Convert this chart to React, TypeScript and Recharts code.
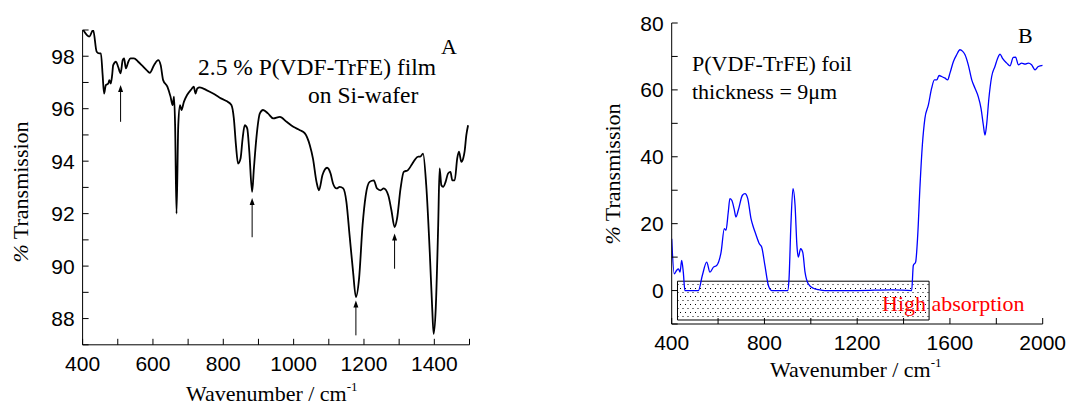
import React from 'react';
import { LineChart, Line, XAxis, YAxis, ReferenceLine, ReferenceArea } from 'recharts';

// Panel A: 2.5 % P(VDF-TrFE) film on Si-wafer
const wavenumberA = [
  402, 419, 430, 440, 447, 452, 457, 461, 466, 473,
  476, 480, 484, 487, 495, 501, 508, 514, 518, 523,
  530, 536, 546, 558, 568, 582, 591, 603, 615, 622,
  629, 641, 650, 656, 660, 663, 667, 672, 677, 681,
  688, 697, 710, 716, 721, 726, 733, 752, 771, 790,
  809, 823, 830, 836, 842, 849, 855, 861, 868, 874,
  882, 887, 894, 904, 913, 927, 942, 961, 980, 999,
  1018, 1032, 1046, 1055, 1065, 1072, 1082, 1095, 1105, 1112,
  1122, 1131, 1141, 1150, 1159, 1169, 1177, 1186, 1196, 1205,
  1216, 1228, 1237, 1247, 1256, 1269, 1278, 1287, 1294, 1304,
  1313, 1325, 1335, 1344, 1354, 1360, 1368, 1377, 1387, 1394,
  1398, 1404, 1411, 1415, 1420, 1425, 1432, 1439, 1446, 1451,
  1458, 1465, 1470, 1477, 1482, 1486, 1491, 1496,
];
const transmissionA = [
  99.0, 98.75, 99.0, 98.17, 98.11, 98.11, 97.28, 96.58, 96.9, 96.96,
  97.09, 96.96, 97.28, 97.66, 97.79, 97.6, 97.35, 97.85, 97.92, 97.54,
  97.79, 97.92, 97.92, 97.79, 97.66, 97.47, 97.37, 97.66, 97.85, 97.66,
  97.09, 96.84, 96.46, 96.14, 96.46, 95.37, 92.0, 95.37, 96.14, 95.95,
  96.26, 96.52, 96.75, 96.84, 96.58, 96.77, 96.81, 96.71, 96.58, 96.42,
  96.29, 96.14, 95.63, 94.61, 93.91, 94.1, 94.87, 95.37, 95.25, 94.36,
  92.83, 93.72, 94.87, 95.82, 95.95, 95.82, 95.63, 95.69, 95.5, 95.31,
  95.18, 95.06, 94.61, 94.1, 93.21, 92.89, 93.47, 93.75, 93.53, 93.15,
  92.96, 93.02, 92.96, 92.45, 91.18, 89.78, 88.82, 89.52, 91.56, 92.7,
  93.21, 93.27, 92.96, 92.89, 92.96, 92.7, 92.13, 91.49, 91.81, 92.96,
  93.59, 93.66, 93.85, 94.04, 94.17, 94.17, 94.29, 93.08, 90.54, 88.38,
  87.42, 88.38, 91.56, 93.72, 93.08, 93.02, 93.21, 93.53, 93.59, 93.27,
  93.27, 94.1, 94.36, 93.97, 94.1, 94.36, 94.99, 95.37,
];
// arrows marking bands: wavenumber, tail and tip transmission
const arrowsA = [
  { wn: 508, from: 95.5, to: 96.9 },
  { wn: 882, from: 91.1, to: 92.6 },
  { wn: 1177, from: 87.36, to: 88.69 },
  { wn: 1287, from: 89.9, to: 91.24 },
];
const xTicksA = [400, 500, 600, 700, 800, 900, 1000, 1100, 1200, 1300, 1400, 1500];
const yTicksA = [87, 88, 89, 90, 91, 92, 93, 94, 95, 96, 97, 98, 99];

// Panel B: P(VDF-TrFE) foil, 9 µm
const wavenumberB = [
  400, 411, 421, 429, 436, 443, 450, 457, 515, 532,
  551, 565, 580, 594, 613, 627, 634, 644, 651, 659,
  669, 677, 687, 705, 716, 728, 742, 752, 762, 778,
  788, 802, 817, 831, 900, 906, 914, 923, 932, 940,
  946, 956, 965, 975, 989, 1011, 1032, 1061, 1200, 1350,
  1435, 1442, 1452, 1461, 1471, 1481, 1492, 1507, 1521, 1533,
  1543, 1553, 1564, 1579, 1590, 1600, 1615, 1629, 1643, 1655,
  1665, 1679, 1694, 1708, 1722, 1734, 1744, 1751, 1758, 1768,
  1780, 1794, 1809, 1816, 1826, 1845, 1859, 1873, 1883, 1895,
  1909, 1924, 1938, 1952, 1967, 1981, 2000,
];
const transmissionB = [
  15.5, 5.0, 6.0, 6.5, 5.5, 9.0, 5.5, 0, 0, 4.5,
  8.5, 5.5, 7.0, 7.5, 11.5, 18.5, 18.0, 23.5, 27.5, 27.0,
  24.5, 22.0, 24.0, 28.5, 29.0, 27.5, 21.5, 19.0, 17.0, 14.0,
  13.0, 7.5, 1.5, 0, 0, 3.5, 19.5, 30.5, 25.5, 13.5,
  10.0, 12.5, 11.5, 5.5, 2.0, 0.7, 0.3, 0, 0, 0.2,
  0, 7.5, 8.5, 16.5, 31.5, 43.5, 51.5, 55.5, 60.5, 63.0,
  63.0, 64.3, 64.0, 63.5, 63.0, 65.0, 68.5, 70.5, 72.0, 71.5,
  70.5, 67.5, 63.0, 60.5, 58.0, 54.5, 49.5, 46.5, 49.5, 57.5,
  64.0, 67.0, 70.0, 70.7, 69.5, 68.0, 67.2, 69.7, 69.8, 67.5,
  68.0, 67.7, 68.0, 67.5, 66.0, 67.0, 67.3,
];
const absorptionBand = { from: 425, to: 1510, low: -8.8, high: 2.8 };
const xTicksB = [400, 600, 800, 1000, 1200, 1400, 1600, 1800, 2000];
const yTicksB = [-10, 0, 10, 20, 30, 40, 50, 60, 70, 80];

const dataA = wavenumberA.map((wn, i) => ({ wn, t: transmissionA[i] }));
const dataB = wavenumberB.map((wn, i) => ({ wn, t: transmissionB[i] }));

const serif = '"Liberation Serif", "Times New Roman", serif';
const sans = '"Liberation Sans", Arial, sans-serif';

const BottomTick = (props: any) => {
  const { x, y, payload, every } = props;
  if (payload.value % every !== 0) return <g />;
  return (
    <text x={x} y={y + 26} textAnchor="middle" fontFamily={sans} fontSize={21} fill="#000">
      {payload.value}
    </text>
  );
};

const LeftTick = (props: any) => {
  const { x, y, payload, every, base } = props;
  if ((payload.value - base) % every !== 0) return <g />;
  return (
    <text x={x - 8} y={y + 7.5} textAnchor="end" fontFamily={sans} fontSize={21} fill="#000">
      {payload.value}
    </text>
  );
};

const Arrow = (props: any) => {
  const { x1, y1, x2, y2 } = props;
  if (x1 == null || y1 == null) return <g />;
  const tip = Math.min(y1, y2);
  const tail = Math.max(y1, y2);
  const x = (x1 + x2) / 2;
  return (
    <g>
      <line x1={x} y1={tail} x2={x} y2={tip + 5} stroke="#000" strokeWidth={1} />
      <path d={`M${x},${tip} L${x - 2.5},${tip + 7} L${x + 2.5},${tip + 7} Z`} fill="#000" />
    </g>
  );
};

const axisStroke = { stroke: '#000', strokeWidth: 1 };

const PanelA = () => (
  <LineChart width={500} height={408} data={dataA} margin={{ top: 30, right: 30.5, left: 0, bottom: 33.2 }}>
    <XAxis
      dataKey="wn"
      type="number"
      domain={[400, 1500]}
      ticks={xTicksA}
      interval={0}
      allowDataOverflow
      height={30}
      tickSize={-6}
      tickMargin={6}
      axisLine={axisStroke}
      tickLine={axisStroke}
      tick={(p: any) => <BottomTick {...p} every={200} />}
    />
    <XAxis xAxisId="top" orientation="top" type="number" domain={[400, 1500]} ticks={xTicksA} interval={0}
      height={0} tickSize={-6} tick={false} axisLine={axisStroke} tickLine={axisStroke} />
    <YAxis
      type="number"
      domain={[87, 99]}
      ticks={yTicksA}
      interval={0}
      allowDataOverflow
      width={82.6}
      tickSize={-6}
      tickMargin={6}
      axisLine={axisStroke}
      tickLine={axisStroke}
      tick={(p: any) => <LeftTick {...p} every={2} base={88} />}
    />
    <YAxis yAxisId="right" orientation="right" type="number" domain={[87, 99]} ticks={yTicksA} interval={0}
      width={0} tickSize={-6} tick={false} axisLine={axisStroke} tickLine={axisStroke} />
    {arrowsA.map((a) => (
      <ReferenceLine
        key={a.wn}
        segment={[{ x: a.wn, y: a.from }, { x: a.wn, y: a.to }]}
        shape={(p: any) => <Arrow {...p} />}
      />
    ))}
    <Line type="monotone" dataKey="t" stroke="#000" strokeWidth={1.8} dot={false} isAnimationActive={false} />
  </LineChart>
);

const PanelB = () => (
  <LineChart width={469} height={408} data={dataB} margin={{ top: 23, right: 26.3, left: 0, bottom: 54 }}>
    <defs>
      <pattern id="dots" width="5" height="8" patternUnits="userSpaceOnUse">
        <rect width="5" height="8" fill="#fff" />
        <rect x="0" y="0" width="1" height="1" fill="#000" />
        <rect x="2.5" y="4" width="1" height="1" fill="#000" />
      </pattern>
    </defs>
    <XAxis
      dataKey="wn"
      type="number"
      domain={[400, 2000]}
      ticks={xTicksB}
      interval={0}
      allowDataOverflow
      height={30}
      tickSize={-6}
      tickMargin={6}
      axisLine={axisStroke}
      tickLine={axisStroke}
      tick={(p: any) => <BottomTick {...p} every={400} />}
    />
    <XAxis xAxisId="top" orientation="top" type="number" domain={[400, 2000]} ticks={xTicksB} interval={0}
      height={0} tickSize={-6} tick={false} axisLine={axisStroke} tickLine={axisStroke} />
    <YAxis
      type="number"
      domain={[-10, 80]}
      ticks={yTicksB}
      interval={0}
      allowDataOverflow
      width={71.7}
      tickSize={-6}
      tickMargin={6}
      axisLine={axisStroke}
      tickLine={axisStroke}
      tick={(p: any) => <LeftTick {...p} every={20} base={0} />}
    />
    <YAxis yAxisId="right" orientation="right" type="number" domain={[-10, 80]} ticks={yTicksB} interval={0}
      width={0} tickSize={-6} tick={false} axisLine={axisStroke} tickLine={axisStroke} />
    <ReferenceArea
      x1={absorptionBand.from}
      x2={absorptionBand.to}
      y1={absorptionBand.low}
      y2={absorptionBand.high}
      fill="url(#dots)"
      fillOpacity={1}
      stroke="#000"
      strokeWidth={1}
    />
    <Line type="monotone" dataKey="t" stroke="#0000ff" strokeWidth={1.3} dot={false} isAnimationActive={false} />
  </LineChart>
);

export default function App() {
  return (
    <div style={{ position: 'absolute', left: 0, top: 0, width: 1069, height: 408, background: '#fff' }}>
      <div style={{ position: 'absolute', left: 0, top: 0 }}>
        <PanelA />
      </div>
      <div style={{ position: 'absolute', left: 600, top: 0 }}>
        <PanelB />
      </div>
      <svg
        width={1069}
        height={408}
        style={{ position: 'absolute', left: 0, top: 0, pointerEvents: 'none' }}
        fontFamily={serif}
        fontSize={22}
      >
        <text x={198} y={75} fontSize={23.5}>2.5 % P(VDF-TrFE) film</text>
        <text x={308} y={103} fontSize={23.5}>on Si-wafer</text>
        <text x={441} y={54}>A</text>
        <text x={692} y={71}>P(VDF-TrFE) foil</text>
        <text x={692} y={99}>thickness = 9μm</text>
        <text x={1018} y={43}>B</text>
        <text x={882} y={311} fill="#ff0000">High absorption</text>
        <text transform="translate(28,192) rotate(-90)" textAnchor="middle">
          <tspan fontStyle="italic">%</tspan> Transmission
        </text>
        <text transform="translate(620,174) rotate(-90)" textAnchor="middle">
          <tspan fontStyle="italic">%</tspan> Transmission
        </text>
        <text x={186} y={401}>
          Wavenumber / cm<tspan fontSize={13} dy={-10}>-1</tspan>
        </text>
        <text x={770} y={377}>
          Wavenumber / cm<tspan fontSize={13} dy={-10}>-1</tspan>
        </text>
      </svg>
    </div>
  );
}
